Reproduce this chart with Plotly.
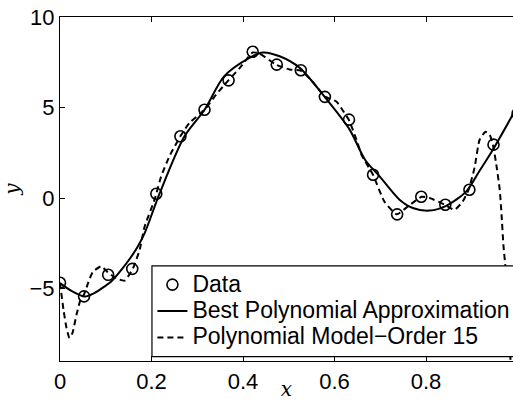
import plotly.graph_objects as go

# Data points
data_x = [0.0, 0.0526, 0.1053, 0.1579, 0.2105, 0.2632, 0.3158, 0.3684, 0.4211, 0.4737,
          0.5263, 0.5789, 0.6316, 0.6842, 0.7368, 0.7895, 0.8421, 0.8947, 0.9474, 1.0]
data_y = [-4.68, -5.43, -4.24, -3.91, 0.24, 3.41, 4.88, 6.50, 8.08, 7.37,
          7.06, 5.59, 4.33, 1.29, -0.90, 0.07, -0.37, 0.46, 2.95, 4.66]

# Best polynomial approximation
best_x = [0.0, 0.025, 0.054, 0.075, 0.097, 0.112, 0.134, 0.156, 0.170, 0.185, 0.207,
          0.2175, 0.272, 0.316, 0.359, 0.414, 0.443, 0.480, 0.524, 0.578, 0.633,
          0.667, 0.699, 0.742, 0.771, 0.808, 0.844, 0.888, 0.917, 0.946, 0.986, 1.0]
best_y = [-4.70, -5.13, -5.44, -5.25, -4.89, -4.61, -3.97, -3.23, -2.68, -1.94, -0.46,
          0.24, 3.41, 4.88, 6.73, 7.74, 8.04, 7.83, 7.19, 5.60, 3.78,
          2.10, 1.18, -0.09, -0.55, -0.69, -0.43, 0.37, 1.51, 2.67, 4.45, 5.10]

# Polynomial model of order 15
p15_x = [0.0, 0.0077, 0.0142, 0.0208, 0.0273, 0.036, 0.0448, 0.052, 0.0623, 0.0717,
         0.090, 0.1038, 0.121, 0.141, 0.159, 0.174, 0.185, 0.2066, 0.221, 0.239,
         0.263, 0.283, 0.316, 0.341, 0.368, 0.393, 0.421, 0.436, 0.472, 0.502,
         0.526, 0.552, 0.579, 0.604, 0.617, 0.631, 0.648, 0.659, 0.684, 0.709,
         0.736, 0.753, 0.790, 0.808, 0.841, 0.862, 0.880, 0.893, 0.906, 0.917,
         0.930, 0.939, 0.946, 0.953, 0.961, 0.965, 0.969, 0.974, 0.980, 0.989, 1.0]
p15_y = [-4.68, -6.18, -7.17, -7.73, -7.45, -6.45, -5.62, -5.35, -4.63, -4.08,
         -3.77, -4.08, -4.41, -4.56, -3.91, -2.86, -1.57, -0.09, 1.19, 2.30,
         3.41, 4.15, 4.88, 5.71, 6.50, 7.19, 8.04, 7.98, 7.37, 7.10,
         7.04, 6.43, 5.60, 5.33, 4.88, 4.33, 3.22, 2.39, 1.29, -0.20,
         -0.90, -0.61, 0.07, 0.00, -0.37, -0.65, -0.19, 0.46, 1.68, 3.22,
         3.66, 3.50, 2.95, 1.94, 0.46, -0.92, -2.58, -3.97, -6.73, -11.2, -20.0]

x_ticks = [0, 0.2, 0.4, 0.6, 0.8]
x_tick_text = ["0", "0.2", "0.4", "0.6", "0.8"]
y_ticks = [-5, 0, 5, 10]

series_names = ["Data", "Best Polynomial Approximation", "Polynomial Model\u2212Order 15"]

FONT = "Liberation Sans, Arial, Helvetica, sans-serif"


def legend_label(s):
    return "<span style='font-size:23px'>" + s + "</span>"


fig = go.Figure()
fig.add_trace(go.Scatter(
    x=data_x, y=data_y, mode="markers", name=legend_label(series_names[0]),
    marker=dict(symbol="circle-open", size=11, color="black", line=dict(width=1.6, color="black")),
))
fig.add_trace(go.Scatter(
    x=best_x, y=best_y, mode="lines", name=legend_label(series_names[1]),
    line=dict(color="black", width=2, shape="spline", smoothing=0.8),
))
fig.add_trace(go.Scatter(
    x=p15_x, y=p15_y, mode="lines", name=legend_label(series_names[2]),
    line=dict(color="black", width=2, dash="6px,4px", shape="spline", smoothing=0.5),
))

# legend frame (runs off the right edge, as in the reference)
fig.add_shape(type="rect", xref="paper", yref="paper",
              x0=0.203, x1=1.1, y0=0.0125, y1=0.2765,
              fillcolor="white", line=dict(color="black", width=1.2), layer="above")

fig.update_layout(
    width=513, height=401,
    margin=dict(l=60, r=0, t=17, b=40, autoexpand=False),
    paper_bgcolor="white", plot_bgcolor="white",
    font=dict(family=FONT, size=22, color="black"),
    showlegend=True,
    legend=dict(
        x=0.204, y=0.275, xanchor="left", yanchor="top",
        bgcolor="rgba(0,0,0,0)", borderwidth=0,
        font=dict(family=FONT, size=18, color="black"),
        tracegroupgap=0, itemwidth=30,
    ),
    xaxis=dict(
        range=[0, 0.99], tickvals=x_ticks, ticktext=x_tick_text,
        ticks="inside", ticklen=5, tickcolor="black", tickwidth=1,
        showline=True, linecolor="black", linewidth=1.2, mirror="ticks",
        showgrid=False, zeroline=False, automargin=False,
        title=dict(text="<i>x</i>", font=dict(family="DejaVu Serif, serif", size=20), standoff=10),
    ),
    yaxis=dict(
        range=[-9, 10], tickvals=y_ticks,
        ticks="inside", ticklen=5, tickcolor="black", tickwidth=1,
        showline=True, linecolor="black", linewidth=1.2, mirror=False,
        showgrid=False, zeroline=False, automargin=False,
        title=dict(text="<i>y</i>", font=dict(family="DejaVu Serif, serif", size=20), standoff=6),
    ),
)

fig.write_html("out.html")
